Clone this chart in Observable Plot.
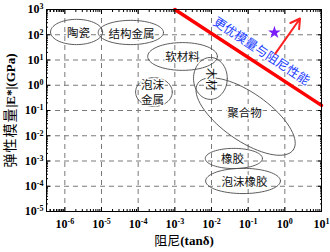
<!DOCTYPE html>
<html><head><meta charset="utf-8">
<script src="https://cdn.jsdelivr.net/npm/d3@7"></script>
<script src="https://cdn.jsdelivr.net/npm/@observablehq/plot@0.6"></script>
<style>body{margin:0;background:#fff}svg{display:block}</style>
</head><body><div id="chart"></div>
<script>
// ---- data ----
const xMajorExp = [-6, -5, -4, -3, -2, -1, 0, 1];
const yMajorExp = [-5, -4, -3, -2, -1, 0, 1, 2, 3];
const xGridExp = [-6, -5, -4, -3, -2, -1, 0];
const yGridExp = [-4, -3, -2, -1, 0, 1, 2];

// material regions (centre and conjugate semi-diameters, in log10 decades)
const regionNames = ["陶瓷", "结构金属", "软材料", "泡沫金属", "木材", "聚合物", "橡胶", "泡沫橡胶"];
const regionCx = [-5.68, -4.20, -2.79, -3.57, -2.03, -1.07, -1.39, -1.14];
const regionCy = [2.11, 2.09, 1.14, -0.27, 0.27, -1.24, -2.90, -3.79];
const regionUx = [0.71, 0.89, 0.95, 0.50, 0.46, 1.30, 0.78, 1.02];
const regionUy = [0, 0, 0, 0, 0, -1.32, 0, 0];
const regionVx = [0, 0, 0, 0, 0, -0.375, 0, 0];
const regionVy = [0.50, 0.48, 0.55, 0.57, 0.83, -0.78, 0.40, 0.50];

const labelText = ["陶瓷", "结构金属", "软材料", "泡沫\n金属", "聚合物", "橡胶", "泡沫橡胶"];
const labelX = [-5.63, -4.18, -2.79, -3.61, -1.10, -1.43, -1.10];
const labelY = [2.09, 2.05, 1.14, -0.27, -1.08, -2.90, -3.81];
const woodLabel = "木材", woodX = -2.03, woodY = 0.23;

// boundary line (tanδ, |E*| GPa)
const boundX = [1e-3, 10];
const boundY = [1000, 0.16];
const boundText = "更优模量与阻尼性能";
const boundTextX = -0.64, boundTextY = 1.34;

const starX = 0.52, starY = 123;
const arrowFrom = [0.55, 18], arrowTo = [2.6, 440];

const xLabel = "阻尼(tanδ)";
const yLabel = "弹性模量|E*|(GPa)";

// ---- derived ----
const xMajor = xMajorExp.map(e => 10 ** e);
const yMajor = yMajorExp.map(e => 10 ** e);
const minorOf = exps => exps.flatMap(e => [2,3,4,5,6,7,8,9].map(m => m * 10 ** (e - 1)));
const xMinor = minorOf([-6, ...xMajorExp]).filter(v => v > 10 ** -6.5 && v < 10);
const yMinor = minorOf(yMajorExp).filter(v => v > 1e-5 && v < 1e3);
const ellipsePts = regionNames.flatMap((name, i) =>
  d3.range(0, 73).map(k => {
    const t = (k / 72) * 2 * Math.PI;
    return {
      name,
      x: 10 ** (regionCx[i] + regionUx[i] * Math.cos(t) + regionVx[i] * Math.sin(t)),
      y: 10 ** (regionCy[i] + regionUy[i] * Math.cos(t) + regionVy[i] * Math.sin(t))
    };
  }));
const labels = labelText.map((t, i) => ({t, x: 10 ** labelX[i], y: 10 ** labelY[i]}));
const boundary = boundX.map((x, i) => ({x, y: boundY[i]}));

const cjk = "'Noto Sans CJK SC', sans-serif";
const grid = {stroke: "#7a7a7a", strokeOpacity: 1, strokeDasharray: "5,4", strokeWidth: 1};

const plot = Plot.plot({
  width: 330, height: 252,
  marginLeft: 46, marginRight: 9, marginTop: 9, marginBottom: 41,
  style: {fontFamily: "'Liberation Serif', serif", fontSize: "12px", fontWeight: "bold", background: "#fff", color: "#000"},
  x: {type: "log", domain: [10 ** -6.5, 10]},
  y: {type: "log", domain: [1e-5, 1e3]},
  marks: [
    Plot.gridX(xGridExp.map(e => 10 ** e), grid),
    Plot.gridY(yGridExp.map(e => 10 ** e), grid),
    Plot.line(ellipsePts, {x: "x", y: "y", z: "name", stroke: "#4a4a4a", strokeWidth: 0.9, curve: "linear"}),
    Plot.text(labels, {x: "x", y: "y", text: "t", fontFamily: cjk, fontWeight: "normal", fontSize: 11.5, lineHeight: 1.25, fill: "#111", stroke: "white", strokeWidth: 3}),
    Plot.text([woodLabel], {x: () => 10 ** woodX, y: () => 10 ** woodY, text: d => d, rotate: 90, fontFamily: cjk, fontWeight: "normal", fontSize: 11.5, fill: "#111", stroke: "white", strokeWidth: 3}),
    Plot.line(boundary, {x: "x", y: "y", stroke: "#ff0000", strokeWidth: 3.5}),
    Plot.text([boundText], {x: () => 10 ** boundTextX, y: () => 10 ** boundTextY, text: d => d, rotate: 33.3, fontFamily: cjk, fontWeight: "normal", fontSize: 12.5, fill: "#1a3cff", stroke: "white", strokeWidth: 2}),
    Plot.arrow([0], {x1: () => arrowFrom[0], y1: () => arrowFrom[1], x2: () => arrowTo[0], y2: () => arrowTo[1], stroke: "#ff2020", strokeWidth: 2, headLength: 8}),
    Plot.dot([0], {x: () => starX, y: () => starY, symbol: "star", fill: "#7b1cff", r: 4}),
    Plot.frame({stroke: "#000", strokeWidth: 1}),
    // inward ticks on all sides
    Plot.axisX(xMajor, {anchor: "bottom", tickSize: -4, tickFormat: () => "", label: null}),
    Plot.axisX(xMinor, {anchor: "bottom", tickSize: -2, tickFormat: () => "", label: null}),
    Plot.axisX(xMajor, {anchor: "top", tickSize: -4, tickFormat: () => "", label: null}),
    Plot.axisX(xMinor, {anchor: "top", tickSize: -2, tickFormat: () => "", label: null}),
    Plot.axisY(yMajor, {anchor: "left", tickSize: -4, tickFormat: () => "", label: null}),
    Plot.axisY(yMinor, {anchor: "left", tickSize: -2, tickFormat: () => "", label: null}),
    Plot.axisY(yMajor, {anchor: "right", tickSize: -4, tickFormat: () => "", label: null}),
    Plot.axisY(yMinor, {anchor: "right", tickSize: -2, tickFormat: () => "", label: null}),
    // tick labels
    Plot.axisX(xMajor, {anchor: "bottom", tickSize: 0, tickPadding: 8, tickFormat: d => `10^${Math.round(Math.log10(d))}`, label: null, fontSize: 12}),
    Plot.axisY(yMajor, {anchor: "left", tickSize: 0, tickPadding: 3, tickFormat: d => `10^${Math.round(Math.log10(d))}`, label: null, fontSize: 12}),
    // axis titles
    Plot.text([xLabel], {frameAnchor: "bottom", dy: 33, text: d => d, fontSize: 13, textAnchor: "middle"}),
    Plot.text([yLabel], {frameAnchor: "left", dx: -36, rotate: -90, text: d => d, fontSize: 13, textAnchor: "middle"})
  ]
});

const svg = plot;
d3.select(svg).selectAll("text").each(function () {
  const t = this.textContent;
  const m = /^10\^(-?\d+)$/.exec(t);
  const sel = d3.select(this);
  if (m) {
    sel.text(null);
    sel.append("tspan").text("10");
    sel.append("tspan").attr("dy", "-0.5em").attr("font-size", "8px").text(m[1]);
  } else if (t === xLabel || t === yLabel) {
    const runs = t.match(/[\u4e00-\u9fff]+|[^\u4e00-\u9fff]+/g);
    sel.text(null);
    runs.forEach(r => {
      const isCjk = /[\u4e00-\u9fff]/.test(r);
      const ts = sel.append("tspan")
        .attr("font-family", isCjk ? "Noto Sans CJK SC" : "Liberation Serif")
        .attr("font-weight", isCjk ? "normal" : "bold")
        .text(r);
      if (isCjk && t === yLabel) ts.attr("font-size", "14px").attr("letter-spacing", "1px");
    });
  }
});
document.getElementById("chart").appendChild(plot);
</script>
</body></html>
